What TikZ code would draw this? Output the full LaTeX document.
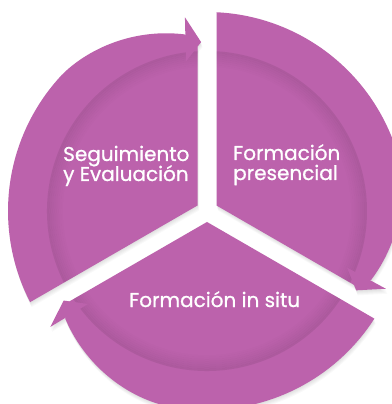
\documentclass[tikz,border=0pt]{standalone}
\usepackage{fontspec}
\setmainfont{Poppins}
\newfontfamily\lblfont{Poppins}[FakeBold=0.9]
\definecolor{pm}{RGB}{188,98,172}
\newcommand\sectorpath{(30:10.97) -- plot[domain=0:1, samples=40, variable=\t] ({87.26-70.26*\t}:199) -- plot[domain=0:1, samples=30, variable=\t] ({17-39.8*\t}:{199-21*\t*sqrt(\t)}) -- (147.0,-73.9) -- cycle}
\newcommand\arrowheadpath{(-23.5:195) -- (-28:169) -- (-22:151) -- cycle}
\tikzset{
  lbl/.style={text=white, font=\lblfont\fontsize{20}{20}\selectfont, inner sep=0pt, anchor=base west},
}
\begin{document}
\begin{tikzpicture}[x=1pt,y=1pt]
\useasboundingbox (-207,-193) rectangle (184,211);
\fill[white] (-207,-193) rectangle (184,211);
% soft shadow
\foreach \d in {1,...,5}{
  \begin{scope}[yshift=-\d pt, xshift=0.3*\d pt]
    \foreach \k in {0,120,240}{
      \begin{scope}[rotate=\k]
        \fill[black, opacity=0.025] \sectorpath;
        \fill[black, opacity=0.025] \arrowheadpath;
      \end{scope}
    }
  \end{scope}
}
% sectors
\foreach \k in {0,120,240}{
  \begin{scope}[rotate=\k]
    \fill[pm] \sectorpath;
    \begin{scope}
      \clip \sectorpath;
      \foreach \r/\o in {159/0.08,157/0.068,155/0.056,153/0.044,151/0.034,149/0.024,147/0.015,145/0.008}
        \draw[black, opacity=\o, line width=2pt] (0,0) circle[radius=\r pt];
    \end{scope}
    \fill[pm] \arrowheadpath;
  \end{scope}
}
% labels
\node[lbl] (seg1) at (-144,50) {Seguimiento};
\node[lbl] (seg2) at (-144,30) {y Evaluación};
\node[lbl] (fp1) at (26,51) {Formación};
\node[lbl] (fp2) at (26,31) {presencial};
\node[lbl] (fis) at (-78,-96) {Formación in situ};
\end{tikzpicture}
\end{document}
